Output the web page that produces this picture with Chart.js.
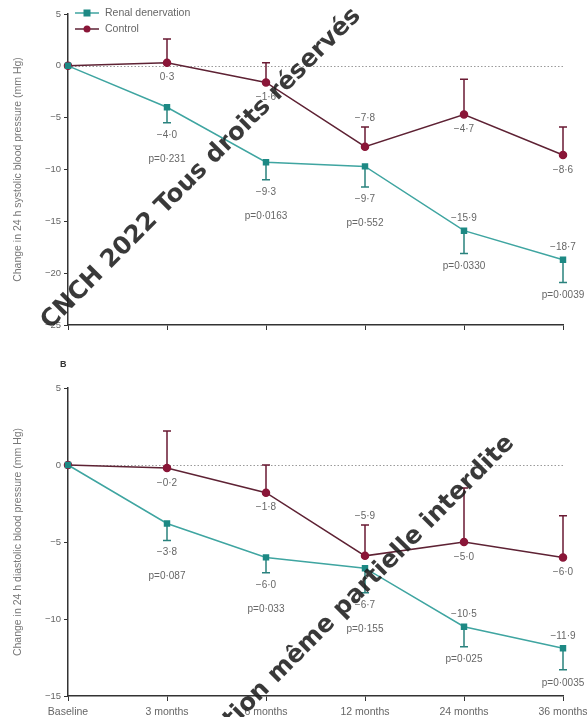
<!DOCTYPE html>
<html>
<head>
<meta charset="utf-8">
<script src="https://cdn.jsdelivr.net/npm/chart.js@4.4.1/dist/chart.umd.min.js"></script>
<style>
  html, body { margin: 0; padding: 0; background: #fff; }
  #wrap { position: relative; width: 587px; height: 717px; overflow: hidden; }
  #sys { position: absolute; left: 0; top: 0; }
  #dia { position: absolute; left: 0; top: 355px; }
  #stamp { position: absolute; left: 0; top: 0; pointer-events: none; }
</style>
</head>
<body>
<div id="wrap">
  <canvas id="sys" width="587" height="345"></canvas>
  <canvas id="dia" width="587" height="362"></canvas>
  <canvas id="stamp" width="587" height="717"></canvas>
</div>
<script>
const months = ['Baseline', '3 months', '6 months', '12 months', '24 months', '36 months'];

// 24 h systolic
const sysRdn = [0, -4.0, -9.3, -9.7, -15.9, -18.7];
const sysRdnErr = [0, 1.5, 1.7, 2.0, 2.2, 2.2];
const sysCtl = [0, 0.3, -1.6, -7.8, -4.7, -8.6];
const sysCtlErr = [0, 2.3, 1.9, 1.9, 3.4, 2.7];
const sysP = ['', 'p=0·231', 'p=0·0163', 'p=0·552', 'p=0·0330', 'p=0·0039'];

// 24 h diastolic
const diaRdn = [0, -3.8, -6.0, -6.7, -10.5, -11.9];
const diaRdnErr = [0, 1.1, 1.0, 1.6, 1.3, 1.4];
const diaCtl = [0, -0.2, -1.8, -5.9, -5.0, -6.0];
const diaCtlErr = [0, 2.4, 1.8, 2.0, 3.5, 2.7];
const diaP = ['', 'p=0·087', 'p=0·033', 'p=0·155', 'p=0·025', 'p=0·0035'];

// where each value label sits relative to its point
const sysRdnPos = [null, 'below', 'below', 'below', 'above', 'above'];
const sysCtlPos = [null, 'below', 'below', 'above', 'below', 'below'];
const diaRdnPos = [null, 'below', 'below', 'below', 'above', 'above'];
const diaCtlPos = [null, 'below', 'below', 'above', 'below', 'below'];

const TEAL_LINE = '#3fa5a1', TEAL_MARK = '#1d8984', TEAL_BAR = '#2a827e';
const RED_LINE = '#5e2234', RED_MARK = '#8a1638', RED_BAR = '#6a1a33';
const TXT = '#666';
const FONT = '"Liberation Sans", Arial, sans-serif';

const fmt = v => (v < 0 ? '−' : '') + Math.abs(v).toFixed(1).replace('.', '·');
const fmtTick = v => (v < 0 ? '−' + Math.abs(v) : String(v));

const extras = {
  id: 'extras',
  beforeDatasetsDraw(chart) {
    const { ctx, chartArea, scales: { x, y } } = chart;
    const o = chart.options.plugins.extras;

    // dotted zero reference
    ctx.save();
    ctx.strokeStyle = '#9a9a9a';
    ctx.lineWidth = 1;
    ctx.setLineDash([1.5, 2]);
    const y0 = Math.round(y.getPixelForValue(0)) + 0.5;
    ctx.beginPath();
    ctx.moveTo(chartArea.left, y0);
    ctx.lineTo(chartArea.right, y0);
    ctx.stroke();
    ctx.restore();

    // one-sided error bars
    chart.data.datasets.forEach((ds, i) => {
      const err = o.errs[i], dir = o.dirs[i];
      ctx.save();
      ctx.strokeStyle = o.barColors[i];
      ctx.lineWidth = 1.5;
      ds.data.forEach((v, j) => {
        if (!err[j]) return;
        const px = x.getPixelForValue(j);
        const py = y.getPixelForValue(v);
        const pe = y.getPixelForValue(v + dir * err[j]);
        ctx.beginPath();
        ctx.moveTo(px, py);
        ctx.lineTo(px, pe);
        ctx.moveTo(px - 4, pe);
        ctx.lineTo(px + 4, pe);
        ctx.stroke();
      });
      ctx.restore();
    });
  },
  afterDatasetsDraw(chart) {
    const { ctx, scales: { x, y } } = chart;
    const o = chart.options.plugins.extras;
    ctx.save();
    ctx.font = '10px ' + FONT;
    ctx.fillStyle = TXT;
    ctx.textAlign = 'center';
    ctx.textBaseline = 'middle';
    chart.data.datasets.forEach((ds, i) => {
      const err = o.errs[i], dir = o.dirs[i], pos = o.pos[i];
      ds.data.forEach((v, j) => {
        if (j === 0) return;
        const px = x.getPixelForValue(j);
        const py = y.getPixelForValue(v);
        const pe = y.getPixelForValue(v + dir * err[j]);
        let ly, lp = null;
        if (dir > 0) {
          ly = pos[j] === 'above' ? pe - 9 : py + 15;
        } else if (pos[j] === 'above') {
          ly = py - 12;
          lp = pe + 13;
        } else {
          ly = pe + 12;
          lp = pe + 36;
        }
        ctx.fillText(fmt(v), px, ly);
        if (lp !== null && o.p[i]) ctx.fillText(o.p[i][j], px, lp);
      });
    });
    ctx.restore();
  },
  afterDraw(chart) {
    const o = chart.options.plugins.extras;
    const ctx = chart.ctx;
    ctx.save();
    if (o.legend) {
      chart.data.datasets.forEach((ds, i) => {
        const ly = 13 + i * 16;
        ctx.strokeStyle = ds.borderColor;
        ctx.lineWidth = 1.5;
        ctx.beginPath();
        ctx.moveTo(75, ly);
        ctx.lineTo(99, ly);
        ctx.stroke();
        ctx.fillStyle = ds.pointBackgroundColor;
        if (ds.pointStyle === 'rect') {
          ctx.fillRect(83.5, ly - 3.5, 7, 7);
        } else {
          ctx.beginPath();
          ctx.arc(87, ly, 3.5, 0, Math.PI * 2);
          ctx.fill();
        }
        ctx.fillStyle = TXT;
        ctx.font = '10.5px ' + FONT;
        ctx.textAlign = 'left';
        ctx.textBaseline = 'middle';
        ctx.fillText(ds.label, 105, ly);
      });
    }
    if (o.panel) {
      ctx.fillStyle = '#333';
      ctx.font = 'bold 9px ' + FONT;
      ctx.textAlign = 'left';
      ctx.textBaseline = 'middle';
      ctx.fillText(o.panel, 60, 10);
    }
    ctx.restore();
  }
};

function makeChart(el, c) {
  return new Chart(el, {
    type: 'line',
    data: {
      labels: months,
      datasets: [
        {
          label: 'Renal denervation',
          data: c.rdn,
          borderColor: TEAL_LINE,
          backgroundColor: TEAL_MARK,
          pointBackgroundColor: TEAL_MARK,
          pointBorderColor: TEAL_MARK,
          pointStyle: 'rect',
          pointRadius: 3.5,
          borderWidth: 1.5,
          tension: 0
        },
        {
          label: 'Control',
          data: c.ctl,
          borderColor: RED_LINE,
          backgroundColor: RED_MARK,
          pointBackgroundColor: RED_MARK,
          pointBorderColor: RED_MARK,
          pointStyle: 'circle',
          pointRadius: 3.5,
          borderWidth: 1.5,
          tension: 0
        }
      ]
    },
    options: {
      responsive: false,
      animation: false,
      layout: { padding: { top: c.padTop, right: 24, left: 0, bottom: 0 } },
      plugins: {
        legend: { display: false },
        tooltip: { enabled: false },
        extras: {
          errs: [c.rdnErr, c.ctlErr],
          dirs: [-1, 1],
          pos: [c.rdnPos, c.ctlPos],
          p: [c.p, null],
          barColors: [TEAL_BAR, RED_BAR],
          legend: c.legend,
          panel: c.panel
        }
      },
      scales: {
        x: {
          type: 'category',
          offset: false,
          grid: { drawOnChartArea: false, tickLength: 5, color: '#333' },
          border: { color: '#333', width: 1.5 },
          ticks: {
            display: c.showX, color: TXT, font: { size: 10.5, family: FONT },
            maxRotation: 0, autoSkip: false, padding: 5
          },
          // let the end labels run past the plot edge
          afterFit: s => { s.height = c.xH; s.paddingLeft = 0; s.paddingRight = 0; }
        },
        y: {
          min: c.min,
          max: 5,
          ticks: { stepSize: 5, color: TXT, font: { size: 9.5, family: FONT }, padding: 3, callback: v => fmtTick(v) },
          grid: { drawOnChartArea: false, tickLength: 4, color: '#333' },
          border: { color: '#333', width: 1.5 },
          title: {
            display: true, text: c.title, color: '#777',
            font: { size: 10.5, family: FONT }, padding: { top: 12, bottom: 0 }
          },
          afterFit: s => { s.width = 68; }
        }
      }
    },
    plugins: [extras]
  });
}

makeChart(document.getElementById('sys'), {
  rdn: sysRdn, rdnErr: sysRdnErr, ctl: sysCtl, ctlErr: sysCtlErr, p: sysP,
  rdnPos: sysRdnPos, ctlPos: sysCtlPos,
  min: -25, padTop: 14, xH: 20, showX: false, legend: true, panel: null,
  title: 'Change in 24 h systolic blood pressure (mm Hg)'
});

makeChart(document.getElementById('dia'), {
  rdn: diaRdn, rdnErr: diaRdnErr, ctl: diaCtl, ctlErr: diaCtlErr, p: diaP,
  rdnPos: diaRdnPos, ctlPos: diaCtlPos,
  min: -15, padTop: 33, xH: 21, showX: true, legend: false, panel: 'B',
  title: 'Change in 24 h diastolic blood pressure (mm Hg)'
});

// diagonal copyright stamp laid over both panels
(function () {
  const ctx = document.getElementById('stamp').getContext('2d');
  const first = 'CNCH 2022 Tous droits réservés';
  const second = 'Reproduction même partielle interdite';
  const face = '"DejaVu Sans", ' + FONT;
  const x0 = 50, y0 = 330, x1 = 362, y1 = 16;
  const ang = Math.atan2(y1 - y0, x1 - x0);
  const len = Math.hypot(x1 - x0, y1 - y0);
  ctx.font = 'bold 100px ' + face;
  const size = 100 * len / ctx.measureText(first).width;
  ctx.font = 'bold ' + size.toFixed(1) + 'px ' + face;
  ctx.fillStyle = 'rgba(30,30,30,0.88)';
  ctx.textBaseline = 'alphabetic';
  ctx.textAlign = 'left';

  ctx.save();
  ctx.translate(x0, y0);
  ctx.rotate(ang);
  ctx.fillText(first, 0, 0);
  ctx.restore();

  // second line is anchored at its last letter
  const w2 = ctx.measureText(second).width;
  const ex = 515, ey = 444;
  ctx.save();
  ctx.translate(ex - w2 * Math.cos(ang), ey - w2 * Math.sin(ang));
  ctx.rotate(ang);
  ctx.fillText(second, 0, 0);
  ctx.restore();
})();
</script>
</body>
</html>
